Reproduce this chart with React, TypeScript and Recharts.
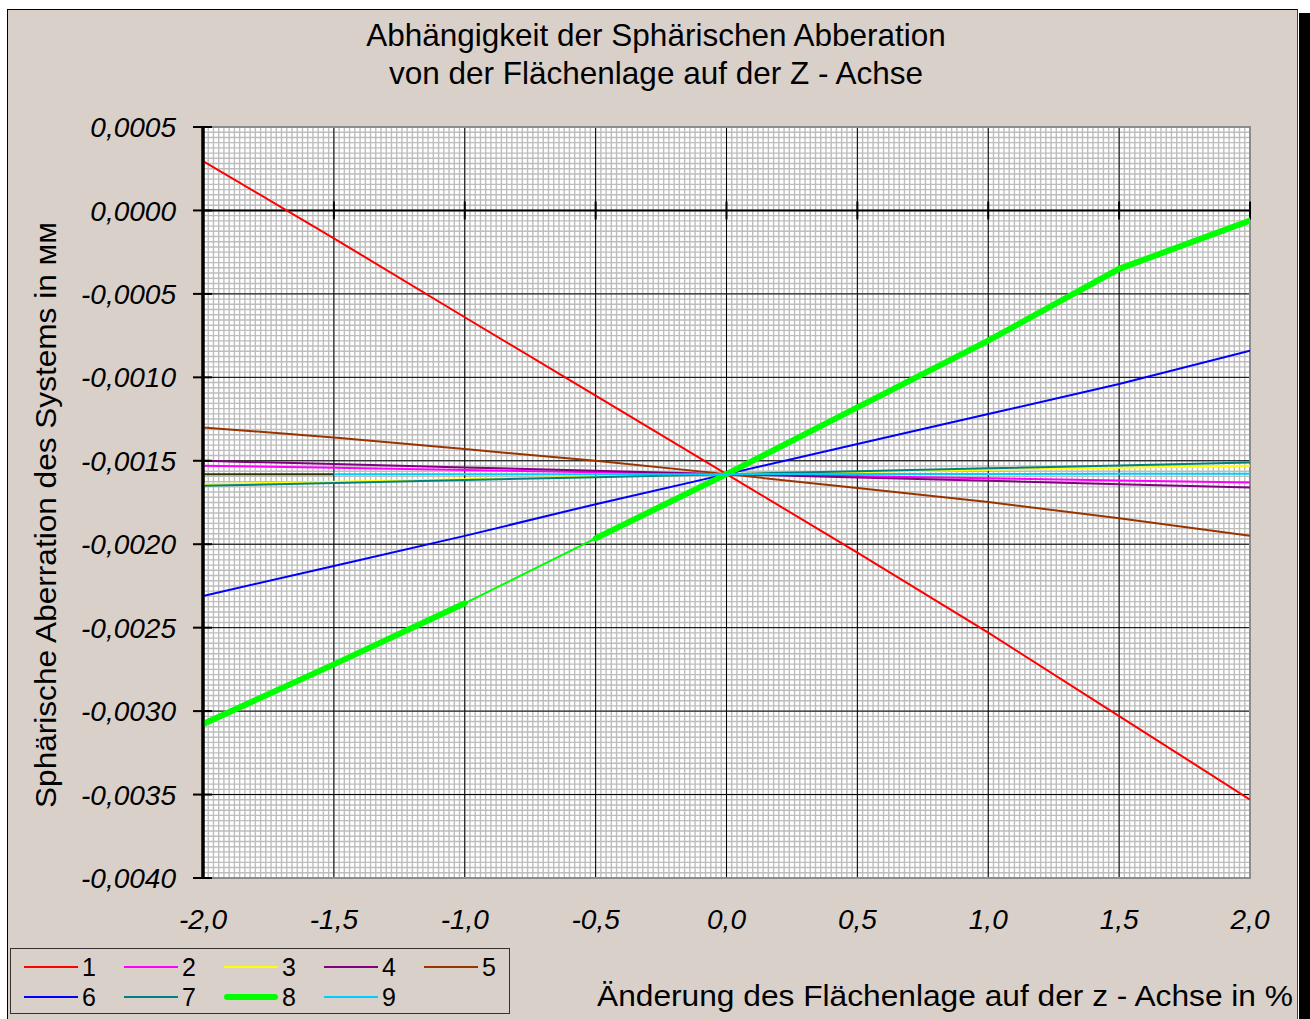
import React from 'react';
import {
  LineChart,
  Line,
  XAxis,
  YAxis,
  CartesianGrid,
  ReferenceLine,
  ReferenceArea,
} from 'recharts';

// x positions (change of surface position, %)
const xValues = [-2, -1.5, -1, -0.5, 0, 0.5, 1, 1.5, 2];

// spherical aberration per surface
const s1 = [0.000296, -0.000167, -0.00064, -0.00111, -0.00158, -0.00205, -0.00253, -0.00303, -0.00353];
const s2 = [-0.00153, -0.001542, -0.001555, -0.001568, -0.00158, -0.001592, -0.001605, -0.001618, -0.00163];
const s3 = [-0.00164, -0.001626, -0.00161, -0.001595, -0.00158, -0.001567, -0.001554, -0.001542, -0.00153];
const s4 = [-0.0015, -0.00152, -0.00154, -0.00156, -0.00158, -0.0016, -0.00162, -0.00164, -0.00166];
const s5 = [-0.0013, -0.00136, -0.00143, -0.0015, -0.00158, -0.001663, -0.001747, -0.001845, -0.00195];
const s6 = [-0.00231, -0.00213, -0.00195, -0.00176, -0.00158, -0.0014, -0.00122, -0.00104, -0.00084];
const s7 = [-0.00165, -0.001633, -0.001615, -0.001598, -0.00158, -0.001563, -0.001545, -0.001528, -0.00151];
const s8 = [-0.003077, -0.00272, -0.002354, -0.001965, -0.00158, -0.00118, -0.00078, -0.00035, -0.00006];
const s9 = [-0.00158, -0.00158, -0.00158, -0.00158, -0.00158, -0.001579, -0.001579, -0.001578, -0.001577];

const xTicks = [-2, -1.5, -1, -0.5, 0, 0.5, 1, 1.5, 2];
const yTicks = [0.0005, 0, -0.0005, -0.001, -0.0015, -0.002, -0.0025, -0.003, -0.0035, -0.004];

const legendNames = ['1', '2', '3', '4', '5', '6', '7', '8', '9'];

const W = 1310;
const H = 1019;
const PLOT_LEFT = 203;
const PLOT_TOP = 127;
const PLOT_W = 1047;
const PLOT_H = 751;
const Y_AXIS_W = 60;
const X_AXIS_H = 30;
const FONT = '"Liberation Sans", Arial, sans-serif';

const COLORS = ['#ff0000', '#ff00ff', '#ffff00', '#800080', '#993300', '#0000ff', '#008080', '#00ff00', '#00ccff'];

const rows = (vals: number[], from = 0, to = vals.length - 1) =>
  xValues.slice(from, to + 1).map((x, i) => ({ x, v: vals[from + i] }));

const fmtY = (v: number) => v.toFixed(4).replace('.', ',');
const fmtX = (v: number) => v.toFixed(1).replace('.', ',');

const YTick = (props: any) => {
  const { y, payload } = props;
  return (
    <g>
      <line x1={PLOT_LEFT - 10} x2={PLOT_LEFT + 9} y1={y} y2={y} stroke="#000" strokeWidth={2} />
      <text
        x={PLOT_LEFT - 27}
        y={y}
        dy="0.36em"
        textAnchor="end"
        fontFamily={FONT}
        fontStyle="italic"
        fontSize={28}
        fill="#000"
      >
        {fmtY(payload.value)}
      </text>
    </g>
  );
};

const XTick = (props: any) => {
  const { x, payload } = props;
  return (
    <text
      x={x}
      y={PLOT_TOP + PLOT_H + 41}
      dy="0.36em"
      textAnchor="middle"
      fontFamily={FONT}
      fontStyle="italic"
      fontSize={28}
      fill="#000"
    >
      {fmtX(payload.value)}
    </text>
  );
};

const minorX = Array.from({ length: 8 * 25 + 1 }, (_, i) => PLOT_LEFT + (i * PLOT_W) / (8 * 25));
const minorY = Array.from({ length: 9 * 16 + 1 }, (_, i) => PLOT_TOP + (i * PLOT_H) / (9 * 16));

const lineProps = {
  type: 'linear' as const,
  dataKey: 'v',
  dot: false,
  activeDot: false,
  isAnimationActive: false,
};

export default function App() {
  const series = [s1, s2, s3, s4, s5, s6, s7];

  return (
    <div style={{ position: 'absolute', left: 0, top: 0, width: W, height: H, background: '#fff', overflow: 'hidden' }}>
      {/* frame + shadow */}
      <div style={{ position: 'absolute', left: 1299, top: 13, width: 11, height: H, background: '#000' }} />
      <div
        style={{
          position: 'absolute',
          left: 7,
          top: 9,
          width: 1291,
          height: H,
          background: '#d9d0ca',
          border: '1px solid #000',
          borderRight: '1px solid #444',
          boxSizing: 'border-box',
        }}
      />

      <div style={{ position: 'absolute', left: 0, top: 0 }}>
        <LineChart
          width={W}
          height={H}
          margin={{
            top: PLOT_TOP,
            left: PLOT_LEFT - Y_AXIS_W,
            right: W - PLOT_LEFT - PLOT_W,
            bottom: H - PLOT_TOP - PLOT_H - X_AXIS_H,
          }}
        >
          <CartesianGrid
            fill="#fff"
            stroke="#bdbdbd"
            strokeWidth={1.4}
            verticalCoordinatesGenerator={() => minorX}
            horizontalCoordinatesGenerator={() => minorY}
          />
          <CartesianGrid stroke="#000" strokeWidth={1} />
          <XAxis
            type="number"
            dataKey="x"
            domain={[-2, 2]}
            ticks={xTicks}
            height={X_AXIS_H}
            axisLine={false}
            tickLine={false}
            tick={<XTick />}
            interval={0}
            allowDataOverflow
          />
          <YAxis
            type="number"
            domain={[-0.004, 0.0005]}
            ticks={yTicks}
            width={Y_AXIS_W}
            axisLine={{ stroke: '#000', strokeWidth: 3 }}
            tickLine={false}
            tick={<YTick />}
            interval={0}
            allowDataOverflow
          />
          <ReferenceArea
            x1={-2}
            x2={2}
            y1={-0.004}
            y2={0.0005}
            fill="none"
            stroke="#8c8c8c"
            strokeWidth={2}
            ifOverflow="visible"
          />
          <ReferenceLine y={0} stroke="#000" strokeWidth={2} />
          {xTicks.map((t) => (
            <ReferenceLine
              key={`xt${t}`}
              segment={[
                { x: t, y: 0.000054 },
                { x: t, y: -0.000054 },
              ]}
              stroke="#000"
              strokeWidth={2}
              ifOverflow="visible"
            />
          ))}
          <ReferenceLine x={-2} stroke="#000" strokeWidth={3} />

          {series.map((vals, i) => (
            <Line key={`s${i + 1}`} {...lineProps} data={rows(vals)} stroke={COLORS[i]} strokeWidth={2} />
          ))}
          <Line {...lineProps} data={rows(s8, 2, 3)} stroke={COLORS[7]} strokeWidth={2} />
          <Line {...lineProps} data={rows(s8, 0, 2)} stroke={COLORS[7]} strokeWidth={6} strokeLinecap="round" />
          <Line {...lineProps} data={rows(s8, 3, 8)} stroke={COLORS[7]} strokeWidth={6} strokeLinecap="round" />
          <Line {...lineProps} data={rows(s9, 0, 1)} stroke="#333300" strokeWidth={2} />
          <Line {...lineProps} data={rows(s9, 1, 8)} stroke={COLORS[8]} strokeWidth={2} />
        </LineChart>
      </div>

      {/* titles and legend */}
      <svg width={W} height={H} style={{ position: 'absolute', left: 0, top: 0, pointerEvents: 'none' }}>
        <text x={656} y={46} textAnchor="middle" fontFamily={FONT} fontSize={31.5} fill="#000">
          Abhängigkeit der Sphärischen Abberation
        </text>
        <text x={656} y={84} textAnchor="middle" fontFamily={FONT} fontSize={31.5} fill="#000">
          von der Flächenlage auf der Z - Achse
        </text>
        <text
          transform="translate(56,515) rotate(-90)"
          textAnchor="middle"
          fontFamily={FONT}
          fontSize={30}
          textLength={586}
          lengthAdjust="spacingAndGlyphs"
          fill="#000"
        >
          Sphärische Aberration des Systems in мм
        </text>
        <text
          x={597}
          y={1006}
          fontFamily={FONT}
          fontSize={30}
          textLength={696}
          lengthAdjust="spacingAndGlyphs"
          fill="#000"
        >
          Änderung des Flächenlage auf der z - Achse in %
        </text>

        <rect x={10.5} y={948.5} width={499} height={65} fill="none" stroke="#333" strokeWidth={1} />
        {legendNames.map((name, i) => {
          const col = i % 5;
          const row = Math.floor(i / 5);
          const lx = 24 + col * 100;
          const ly = 967 + row * 30;
          const thick = i === 7;
          return (
            <g key={name}>
              <line
                x1={thick ? lx + 3 : lx}
                x2={thick ? lx + 51 : lx + 54}
                y1={ly}
                y2={ly}
                stroke={COLORS[i]}
                strokeWidth={thick ? 6 : 2}
                strokeLinecap={thick ? 'round' : 'butt'}
              />
              <text x={lx + 58} y={ly + 9} fontFamily={FONT} fontSize={25} fill="#000">
                {name}
              </text>
            </g>
          );
        })}
      </svg>
    </div>
  );
}
